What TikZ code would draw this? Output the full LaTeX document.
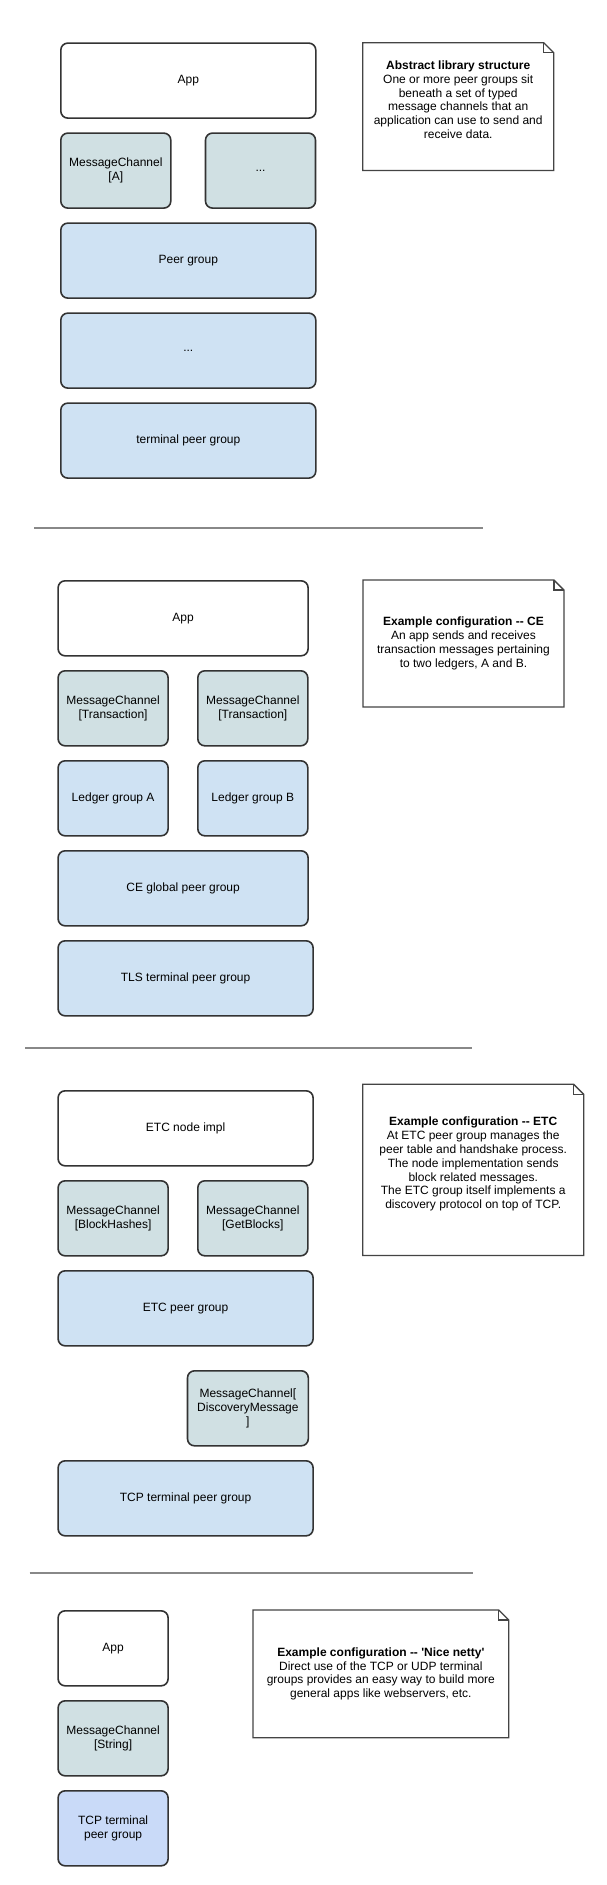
\documentclass[tikz,border=0pt]{standalone}
\usepackage{fontspec}
\setmainfont{Liberation Sans}
\usepackage{tikz}

\definecolor{boxline}{HTML}{333333}
\definecolor{chanfill}{HTML}{D0E0E3}
\definecolor{groupfill}{HTML}{CFE2F3}
\definecolor{termfill}{HTML}{C9DAF8}
\definecolor{noteline}{HTML}{444444}
\definecolor{sepline}{HTML}{888888}

\tikzset{
	layer/.style={draw=boxline, line width=1.6pt, rounded corners=7pt, anchor=north west,
		minimum height=75pt, inner sep=2pt, align=center},
	wide/.style={layer, minimum width=255pt},
	half/.style={layer, minimum width=110pt},
	app/.style={fill=white},
	chan/.style={fill=chanfill},
	group/.style={fill=groupfill},
	note/.style={anchor=north west, inner sep=0pt, align=center},
	noteedge/.style={draw=noteline, line width=1.3pt, line join=miter},
	sep/.style={draw=sepline, line width=2pt}
}

\begin{document}
\begin{tikzpicture}[x=1pt, y=-1pt, font=\fontsize{12pt}{13.8pt}\selectfont]
	\fill[white] (0,0) rectangle (607,1885);
	\useasboundingbox (0,0) rectangle (607,1885);

	% abstract structure
	\node[wide, app] (app1) at (60,42.3) {App};
	\node[half, chan] (chanA) at (60,132.3) {MessageChannel\\{[A]}};
	\node[half, chan] (chanMore) at (204.7,132.3) {...};
	\node[wide, group] (peer1) at (60,222.3) {Peer group};
	\node[wide, group] (more1) at (60,312.3) {...};
	\node[wide, group] (term1) at (60,402.3) {terminal peer group};
	\node[note, minimum width=190.6pt, minimum height=127.3pt] (note1) at (362.7,42.7)
		{\textbf{Abstract library structure}\\One or more peer groups sit\\beneath a set of typed\\message channels that an\\application can use to send and\\receive data.\\ \mbox{}};

	\coordinate (s1a) at (34.3,528);
	\coordinate (s1b) at (482.7,528);
	\draw[sep] (s1a) -- (s1b);

	% CE
	\node[layer, app, minimum width=250pt] (app2) at (57.3,580) {App};
	\node[half, chan] (chanT1) at (57.3,670) {MessageChannel\\{[Transaction]}};
	\node[half, chan] (chanT2) at (197,670) {MessageChannel\\{[Transaction]}};
	\node[half, group] (ledgerA) at (57.3,760) {Ledger group A};
	\node[half, group] (ledgerB) at (197,760) {Ledger group B};
	\node[layer, group, minimum width=250pt] (ceglobal) at (57.3,850) {CE global peer group};
	\node[wide, group] (tls) at (57.3,940) {TLS terminal peer group};
	\node[note, minimum width=200.5pt, minimum height=126.5pt] (note2) at (363,580)
		{\textbf{Example configuration \mbox{-}\mbox{-} CE}\\An app sends and receives\\transaction messages pertaining\\to two ledgers, A and B.};

	\coordinate (s2a) at (25,1048.3);
	\coordinate (s2b) at (472.3,1048.3);
	\draw[sep] (s2a) -- (s2b);

	% ETC
	\node[wide, app] (etcnode) at (57.3,1090) {ETC node impl};
	\node[half, chan] (chanHash) at (57.3,1180) {MessageChannel\\{[BlockHashes]}};
	\node[half, chan] (chanGet) at (197,1180) {MessageChannel\\{[GetBlocks]}};
	\node[wide, group] (etcpeer) at (57.3,1270) {ETC peer group};
	\node[layer, chan, minimum width=120.8pt] (chanDisc) at (186.7,1370) {MessageChannel[\\DiscoveryMessage\\]};
	\node[wide, group] (tcp3) at (57.3,1460) {TCP terminal peer group};
	\node[note, minimum width=220.6pt, minimum height=170.7pt] (note3) at (362.7,1084.3)
		{\textbf{Example configuration \mbox{-}\mbox{-} ETC}\\At ETC peer group manages the\\peer table and handshake process.\\The node implementation sends\\block related messages.\\The ETC group itself implements a\\discovery protocol on top of TCP.\\ \mbox{}};

	\coordinate (s3a) at (29.7,1572.7);
	\coordinate (s3b) at (472.5,1572.7);
	\draw[sep] (s3a) -- (s3b);

	% Nice netty
	\node[half, app] (app4) at (57.3,1610) {App};
	\node[half, chan] (chanStr) at (57.3,1700) {MessageChannel\\{[String]}};
	\node[half, fill=termfill] (tcp4) at (57.3,1790) {TCP terminal\\peer group};
	\node[note, minimum width=255.3pt, minimum height=127.3pt] (note4) at (253,1610)
		{\textbf{Example configuration \mbox{-}\mbox{-} \textquotesingle Nice netty\textquotesingle}\\Direct use of the TCP or UDP terminal\\groups provides an easy way to build more\\general apps like webservers, etc.};

	% folded corners of the notes
	\foreach \n in {note1,note2,note3,note4}{
		\draw[noteedge] (\n.north west) -- ([xshift=-10pt]\n.north east) -- ([yshift=-10pt]\n.north east)
			-- (\n.south east) -- (\n.south west) -- cycle;
		\draw[noteedge] ([xshift=-10pt]\n.north east) |- ([yshift=-10pt]\n.north east);
	}
\end{tikzpicture}
\end{document}
